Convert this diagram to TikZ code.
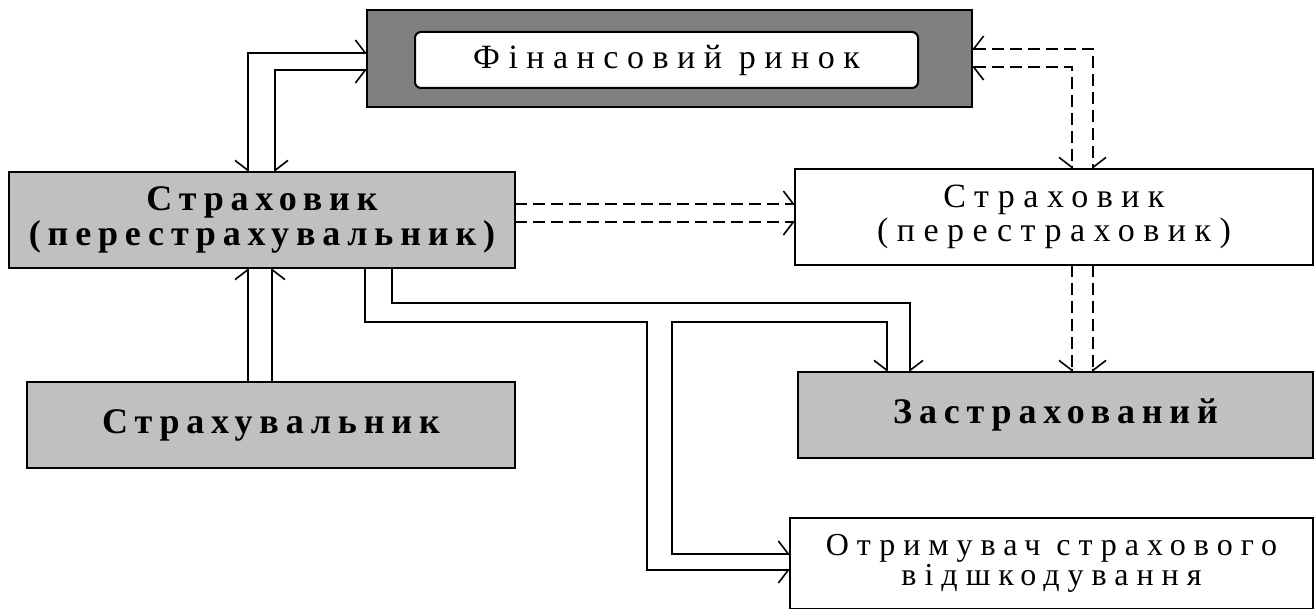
\documentclass[tikz,border=0pt]{standalone}
\usepackage{fontspec}
\setmainfont{Liberation Serif}
\newfontfamily\spacedfont[LetterSpace=25]{Liberation Serif}
\newfontfamily\spacedbold[LetterSpace=19]{Liberation Serif Bold}
\usetikzlibrary{arrows.meta}
\definecolor{lightg}{HTML}{C0C0C0}
\definecolor{darkg}{HTML}{808080}
\tikzset{
  lt/.tip={Straight Barb[left,length=10pt,width=26pt,line width=1.6pt]},
  rt/.tip={Straight Barb[right,length=10pt,width=26pt,line width=1.6pt]}
}
\begin{document}
\begin{tikzpicture}[x=1pt,y=-1pt,
  box/.style={draw=black, line width=2pt, inner sep=0pt, outer sep=0pt, align=center},
  gbox/.style={box, fill=lightg, font={\spacedbold\fontsize{36}{35}\selectfont}},
  wbox/.style={box, fill=white, font={\spacedfont\fontsize{34}{34}\selectfont}},
  conn/.style={line width=1.8pt},
  dconn/.style={conn, dash pattern=on 12pt off 6pt}
]
\fill[white] (0,0) rectangle (1316,609);
\useasboundingbox (0,0) rectangle (1316,609);

% boxes
\node[box, fill=darkg, minimum width=605pt, minimum height=97pt] (fin) at (669.5,58.5) {};
\node[wbox, rounded corners=6pt, minimum width=503pt, minimum height=56pt] (finin) at (666.5,60) {Фінансовий ринок};
\node[gbox, minimum width=506pt, minimum height=96pt] (ins) at (262,220) {Страховик\\(перестрахувальник)};
\node[wbox, minimum width=518pt, minimum height=96pt] (rei) at (1054,217) {Страховик\\(перестраховик)};
\node[gbox, minimum width=488pt, minimum height=86pt] (str) at (271,425) {Страхувальник};
\node[gbox, minimum width=515pt, minimum height=86pt] (zas) at (1055.5,415) {Застрахований};
\node[wbox, minimum width=523pt, minimum height=91pt, font={\spacedfont\fontsize{32}{30}\selectfont}] (otr) at (1051.5,563) {Отримувач страхового\\відшкодування};

% helper coordinates
\coordinate (a1) at (248,53);
\coordinate (a2) at (275,70);
\coordinate (b1) at (248,0);
\coordinate (b2) at (272,0);
\coordinate (c1) at (0,204);
\coordinate (c2) at (0,222);
\coordinate (d1) at (1093,49);
\coordinate (d2) at (1072,67);
\coordinate (e1) at (392,303);
\coordinate (e2) at (910,303);
\coordinate (f1) at (365,322);
\coordinate (f2) at (647,570);
\coordinate (g1) at (887,322);
\coordinate (g2) at (672,554);

% Financial market <-> insurer
\draw[conn, rt-lt] (ins.north -| a1) |- (fin.west |- a1);
\draw[conn, lt-rt] (ins.north -| a2) |- (fin.west |- a2);
% policyholder -> insurer
\draw[conn, -lt] (str.north -| b1) -- (ins.south -| b1);
\draw[conn, -rt] (str.north -| b2) -- (ins.south -| b2);
% insurer -> reinsurer
\draw[dconn, -lt] (ins.east |- c1) -- (rei.west |- c1);
\draw[dconn, -rt] (ins.east |- c2) -- (rei.west |- c2);
% financial market <-> reinsurer
\draw[dconn, rt-lt] (fin.east |- d1) -| (rei.north -| d1);
\draw[dconn, lt-rt] (fin.east |- d2) -| (rei.north -| d2);
% reinsurer -> insured
\draw[dconn, -rt] (rei.south -| d2) -- (zas.north -| d2);
\draw[dconn, -lt] (rei.south -| d1) -- (zas.north -| d1);
% insurer -> insured
\draw[conn, -lt] (ins.south -| e1) -- (e1) -- (e2) -- (zas.north -| e2);
% insurer -> beneficiary
\draw[conn, -rt] (ins.south -| f1) -- (f1) -- (f2 |- f1) -- (f2) -- (otr.west |- f2);
% insured <-> beneficiary
\draw[conn, rt-lt] (zas.north -| g1) -- (g1) -- (g2 |- g1) -- (g2) -- (otr.west |- g2);
\end{tikzpicture}
\end{document}
